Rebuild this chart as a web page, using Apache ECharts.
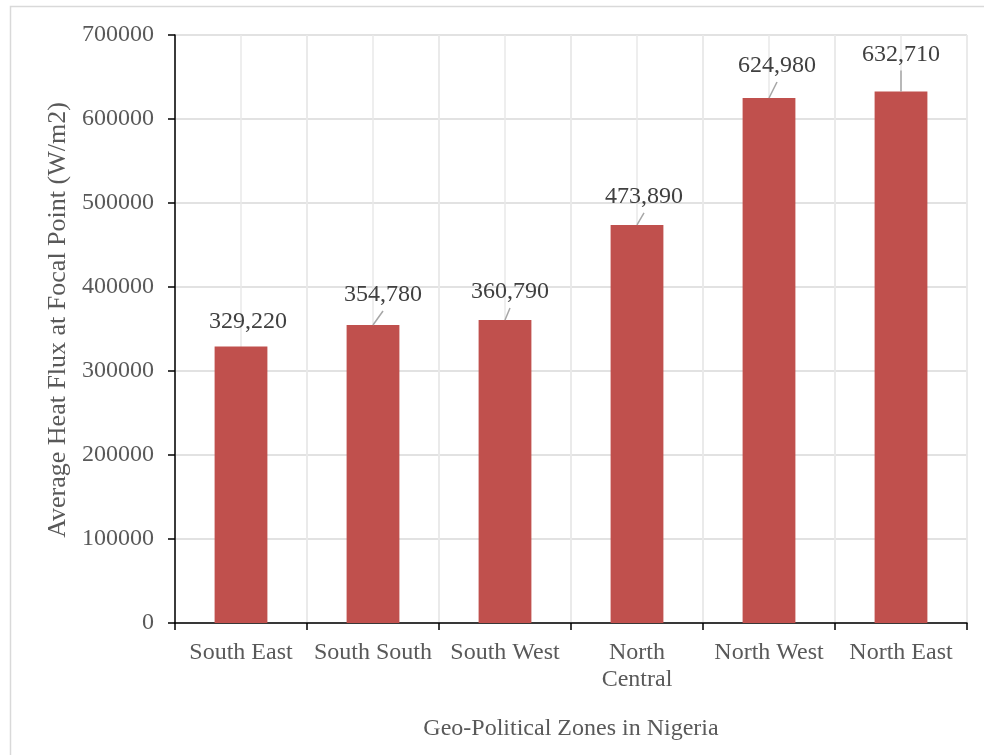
<!DOCTYPE html>
<html>
<head>
<meta charset="utf-8">
<script src="https://cdn.jsdelivr.net/npm/echarts@6/dist/echarts.min.js"></script>
<style>
  html, body { margin: 0; padding: 0; background: #ffffff; }
  #chart { width: 984px; height: 755px; }
</style>
</head>
<body>
<div id="chart"></div>
<script>
// Geo-political zones and their average heat flux at the focal point (W/m2)
const zones = ['South East', 'South South', 'South West', 'North\nCentral', 'North West', 'North East'];
const heatFlux = [329220, 354780, 360790, 473890, 624980, 632710];
const yTicks = { min: 0, max: 700000, step: 100000 };

// Offsets of the value labels from their default spot above each bar
const labelShift = [
  { dx: 7, dy: -8 },
  { dx: 10, dy: -13 },
  { dx: 5, dy: -11 },
  { dx: 7, dy: -11 },
  { dx: 8, dy: -15 },
  { dx: 0, dy: -20 }
];
// Which labels get a leader line back to their bar
const hasLeader = [false, true, true, true, true, true];

const FONT = '"Liberation Serif", "Times New Roman", serif';

const chart = echarts.init(document.getElementById('chart'), null, { renderer: 'canvas' });

const borderGraphic = {
  id: 'frame',
  type: 'rect',
  silent: true,
  z: -10,
  shape: { x: 10.5, y: 6.5, width: 990, height: 780 },
  style: { fill: 'none', stroke: '#d9d9d9', lineWidth: 1.5 }
};

chart.setOption({
  animation: false,
  backgroundColor: '#ffffff',
  textStyle: { fontFamily: FONT },
  graphic: [borderGraphic],
  grid: { left: 175, right: 17, top: 35, bottom: 132, containLabel: false },
  xAxis: [{
    type: 'category',
    data: zones,
    boundaryGap: true,
    name: 'Geo-Political Zones in Nigeria',
    nameLocation: 'middle',
    nameGap: 94,
    nameTextStyle: { fontFamily: FONT, fontSize: 24, color: '#595959', verticalAlign: 'top' },
    axisLine: { show: true, lineStyle: { color: '#000000', width: 1.5 } },
    axisTick: { show: true, length: 7, alignWithLabel: false, lineStyle: { color: '#000000', width: 1.5 } },
    axisLabel: { fontFamily: FONT, fontSize: 24, color: '#595959', margin: 16, lineHeight: 27, interval: 0 },
    splitLine: { show: true, lineStyle: { color: '#e8e8e8', width: 1.5 } }
  }, {
    // Fine vertical grid through the middle of each category
    type: 'value',
    position: 'bottom',
    min: 0,
    max: zones.length * 2,
    interval: 1,
    axisLine: { show: false },
    axisTick: { show: false },
    axisLabel: { show: false },
    splitLine: { show: true, lineStyle: { color: '#e8e8e8', width: 1.5 } }
  }],
  yAxis: {
    type: 'value',
    min: yTicks.min,
    max: yTicks.max,
    interval: yTicks.step,
    name: 'Average Heat Flux at Focal Point (W/m2)',
    nameLocation: 'middle',
    nameGap: 88,
    nameTextStyle: { fontFamily: FONT, fontSize: 26, color: '#595959', padding: [0, 0, 0, 18] },
    axisLine: { show: true, lineStyle: { color: '#000000', width: 1.5 } },
    axisTick: { show: true, length: 7, lineStyle: { color: '#000000', width: 1.5 } },
    axisLabel: { fontFamily: FONT, fontSize: 24, color: '#595959', margin: 21, formatter: v => String(v) },
    splitLine: { show: true, lineStyle: { color: '#d9d9d9', width: 1.5 } }
  },
  series: [{
    type: 'bar',
    xAxisIndex: 0,
    barWidth: '40%',
    data: heatFlux,
    itemStyle: { color: '#C0504D' },
    label: {
      show: true,
      position: 'top',
      distance: 5,
      fontFamily: FONT,
      fontSize: 24,
      color: '#404040',
      formatter: p => p.value.toLocaleString('en-US')
    },
    labelLayout: p => labelShift[p.dataIndex]
  }]
});

// Leader lines: from the top centre of each bar to just under its moved label
const leaders = [];
heatFlux.forEach((v, i) => {
  if (!hasLeader[i]) return;
  const top = chart.convertToPixel({ xAxisIndex: 0, yAxisIndex: 0 }, [i, v]);
  const s = labelShift[i];
  leaders.push({
    id: 'leader' + i,
    type: 'line',
    silent: true,
    z: 5,
    shape: { x1: top[0], y1: top[1], x2: top[0] + s.dx, y2: top[1] + s.dy - 1 },
    style: { stroke: '#a6a6a6', lineWidth: 1.5 }
  });
});
chart.setOption({ graphic: [borderGraphic].concat(leaders) });
</script>
</body>
</html>
